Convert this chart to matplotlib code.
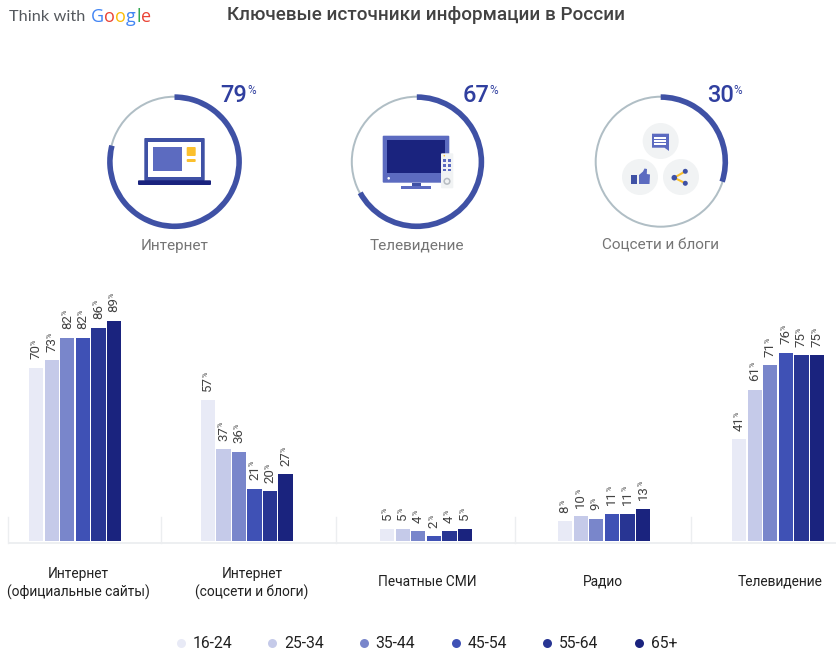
import matplotlib
matplotlib.use("Agg")
import matplotlib.pyplot as plt
from matplotlib.patches import Rectangle, Circle, FancyBboxPatch, Polygon

plt.rcParams["font.family"] = ["Roboto", "DejaVu Sans"]

W, H = 837, 669

title = "Ключевые источники информации в России"
donut_names = ["Интернет", "Телевидение", "Соцсети и блоги"]
donut_values = [79, 67, 30]

categories = ["Интернет\n(официальные сайты)", "Интернет\n(соцсети и блоги)", "Печатные СМИ", "Радио", "Телевидение"]
ages = ["16-24", "25-34", "35-44", "45-54", "55-64", "65+"]
sites = [70, 73, 82, 82, 86, 89]
social = [57, 37, 36, 21, 20, 27]
press = [5, 5, 4, 2, 4, 5]
radio = [8, 10, 9, 11, 11, 13]
tv = [41, 61, 71, 76, 75, 75]
groups = [sites, social, press, radio, tv]

colors = ["#e8eaf6", "#c5cae9", "#7986cb", "#3f51b5", "#283593", "#1a237e"]
BLUE = "#3f51a5"
TEXT_BLUE = "#303f9f"
RING = "#b0bec5"
LIGHT = "#f1f3f4"
YELLOW = "#fbc02d"

group_left = [29, 200.7, 380, 558, 732]
separators = [8, 161, 336, 515, 691]
label_x = [78, 252, 427, 603, 780]
donut_x = [174.5, 416.8, 660.7]
legend_x = [181, 272, 363.7, 455.7, 547, 639.3]

fig = plt.figure(figsize=(W / 100, H / 100), dpi=100)

# overlay in pixel coordinates for texts and icons
ov = fig.add_axes([0, 0, 1, 1], zorder=3)
ov.set_xlim(0, W)
ov.set_ylim(H, 0)
ov.axis("off")
ov.patch.set_alpha(0)


def rect(x0, y0, x1, y1, color, z=4):
    ov.add_patch(Rectangle((x0, y0), x1 - x0, y1 - y0, fc=color, ec="none", zorder=z))


def rrect(x0, y0, x1, y1, color, z=4, r=1):
    ov.add_patch(FancyBboxPatch((x0 + r, y0 + r), x1 - x0 - 2 * r, y1 - y0 - 2 * r,
                                boxstyle="round,pad=%s" % r, fc=color, ec="none", zorder=z))


def dot(x, y, r, color, z=4):
    ov.add_patch(Circle((x, y), r, fc=color, ec="none", zorder=z))


# header
ov.text(426, 15, title, ha="center", va="center", fontsize=13.6, fontweight="medium", color="#424242")
ov.text(9, 17, "Think with", ha="left", va="center", fontsize=11.8, family=["Lato"], color="#55595e")
logo_x = 90
for ch, c, dx in zip("Google", ["#4285f4", "#ea4335", "#fbbc05", "#4285f4", "#34a853", "#ea4335"],
                     [0.5, 13.6, 24.6, 35.6, 46.8, 51.2]):
    ov.text(logo_x + dx, 17, ch, ha="left", va="center", fontsize=13, family=["Open Sans"], color=c)

# donuts
for cx, name, val in zip(donut_x, donut_names, donut_values):
    a = fig.add_axes([(cx - 75) / W, (H - 161.7 - 75) / H, 150 / W, 150 / H], zorder=2)
    a.pie([100], radius=66, startangle=90, colors=[RING], wedgeprops={"width": 2})
    a.pie([val, 100 - val], radius=67.4, startangle=90, counterclock=False,
          colors=[BLUE, "none"], wedgeprops={"width": 5.6})
    a.set_xlim(-75, 75)
    a.set_ylim(-75, 75)
    a.set_aspect("equal")
    a.axis("off")
    ov.text(cx, 246, name, ha="center", va="center", fontsize=11, color="#757575")
    ov.text(cx + 59.5, 95, str(val), ha="center", va="center", fontsize=17, fontweight="medium", color=TEXT_BLUE)
    ov.text(cx + 73, 90.5, "%", ha="left", va="center", fontsize=8.5, color=TEXT_BLUE)

# laptop icon
rrect(144.3, 138, 204.7, 181, BLUE)
rect(148.3, 142.3, 200.7, 176.7, "white")
rect(153.3, 147, 182.3, 171.3, "#5c6bc0", 5)
rrect(186.7, 147, 195.7, 156, YELLOW, 5)
rrect(186.7, 159, 195.7, 162, YELLOW, 5)
rrect(138, 180.3, 211, 185, "#1a237e", 5)

# tv icon
rrect(382.7, 135.7, 449.3, 182.7, "#5c6bc0")
rect(386.7, 140, 445.3, 173.3, "#1a237e", 5)
dot(388.7, 178.3, 1.3, "white", 5)
rect(411.7, 182.7, 421, 186, "#3f51a5")
rect(401, 186, 431, 189, "#5c6bc0")
rrect(441, 153.3, 453.3, 188.3, LIGHT, 6)
dot(444.3, 155.7, 0.8, YELLOW, 7)
for by in (159.3, 164, 168.5):
    rect(443, by, 446, by + 2.6, "#5c6bc0", 7)
    rect(448, by, 451, by + 2.6, "#5c6bc0", 7)
dot(447, 181.3, 3.6, "#b7bcc2", 7)
dot(447, 181.3, 2.0, LIGHT, 8)

# social icons
dot(660.7, 141, 18, LIGHT)
dot(640, 177, 18, LIGHT)
dot(681, 177, 18, LIGHT)
ov.add_patch(Polygon([(652, 133.7), (669, 133.7), (669, 151), (664.5, 147.7), (652, 147.7)],
                     fc="#5c6bc0", ec="none", zorder=5))
for ly in (137, 140.2, 143.4):
    rect(654.5, ly, 666.5, ly + 1.5, "white", 6)
rect(631, 175, 637.5, 184, BLUE, 5)
ov.add_patch(Polygon([(639, 175), (643, 171.5), (644.5, 168.5), (647, 169), (646.8, 174), (650, 174.5),
                      (649.5, 184), (639, 184)], fc="#5c6bc0", ec="none", zorder=5))
ov.plot([685.3, 674.3, 685.3], [171.3, 177.7, 183.3], color=YELLOW, lw=1.5, zorder=5)
dot(674.3, 177.7, 2.8, BLUE, 6)
dot(685.3, 171.3, 2.5, BLUE, 6)
dot(685.3, 183.3, 2.5, BLUE, 6)

# bars, 0 sits on y=541 and 89 on y=320.5
ax = fig.add_axes([0, (H - 541) / H, 1, 220.5 / H], zorder=1)
ax.set_xlim(0, W)
ax.set_ylim(0, 89)
ax.axis("off")
ax.patch.set_alpha(0)
step = 15.55
for left, vals in zip(group_left, groups):
    for i, v in enumerate(vals):
        ax.bar(left + i * step, v, width=14.4, align="edge", color=colors[i])
        x = left + i * step + 7.2
        num_px = 13.5 if v >= 10 else 6.8
        ax.annotate(str(v), (x, v), xytext=(0, 8.5), textcoords="offset pixels", rotation=90,
                    ha="center", va="bottom", fontsize=9.5, color="#424242", annotation_clip=False)
        ax.annotate("%", (x, v), xytext=(-2, 9 + num_px), textcoords="offset pixels", rotation=90,
                    ha="center", va="bottom", fontsize=5.2, color="#424242", annotation_clip=False)

# baseline and separators
ov.plot([8, W], [543.3, 543.3], color="#eceef0", lw=1.3, zorder=2, solid_capstyle="butt")
for sx in separators:
    ov.plot([sx, sx], [517, 543], color="#eceef0", lw=1, zorder=2)

# category labels
for lx, cat in zip(label_x, categories):
    if "\n" in cat:
        ov.text(lx, 583.5, cat, ha="center", va="center", fontsize=9.9, color="#212121", linespacing=1.3)
    else:
        ov.text(lx, 582, cat, ha="center", va="center", fontsize=9.9, color="#212121")

# legend
for lx, age, c in zip(legend_x, ages, colors):
    ov.scatter([lx], [643], s=42, color=c, linewidths=0, zorder=4)
    ov.text(lx + 12, 643, age, ha="left", va="center", fontsize=11.3, color="#212121")

fig.savefig("out.png", dpi=100)
